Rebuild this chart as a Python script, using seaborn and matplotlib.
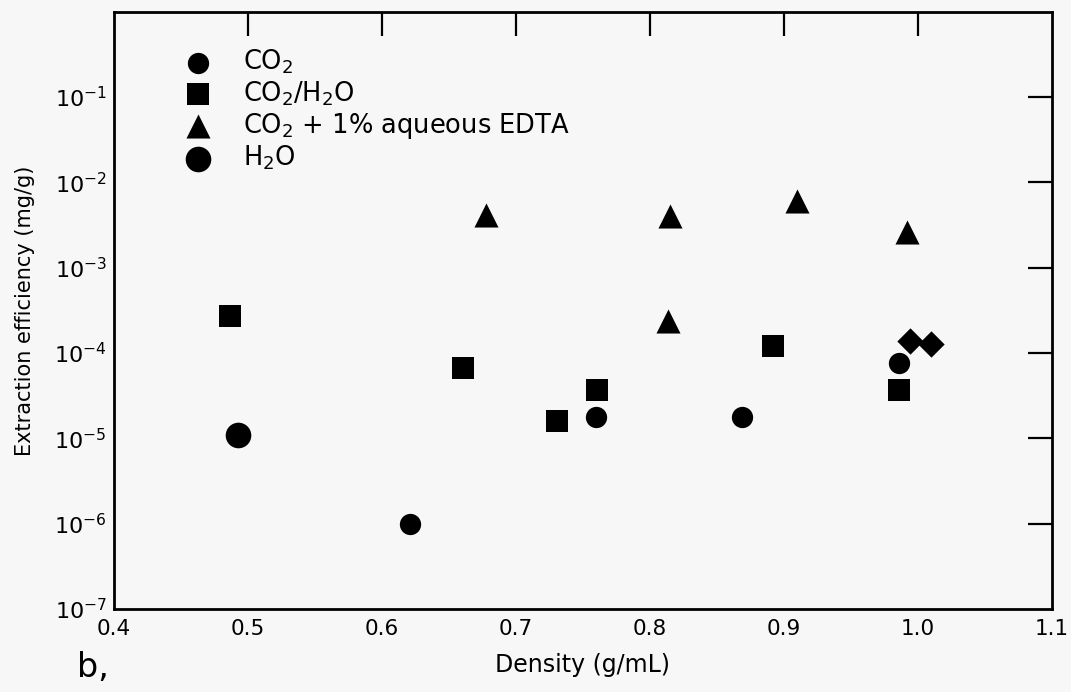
import matplotlib
matplotlib.use("Agg")
import matplotlib.pyplot as plt
from matplotlib.ticker import NullLocator
import pandas as pd
import seaborn as sns

# ── Data ──────────────────────────────────────────────────────────────────────
co2_density = [0.621, 0.760, 0.869, 0.986]
co2_eff     = [1.0e-6, 1.8e-5, 1.8e-5, 7.6e-5]

co2h2o_density = [0.487, 0.661, 0.731, 0.761, 0.892, 0.986]
co2h2o_eff     = [2.75e-4, 6.6e-5, 1.6e-5, 3.7e-5, 1.2e-4, 3.7e-5]

edta_density = [0.678, 0.815, 0.814, 0.910, 0.992]
edta_eff     = [4.1e-3, 4.0e-3, 2.4e-4, 6.05e-3, 2.65e-3]

h2o_density = [0.493]
h2o_eff     = [1.1e-5]

# unlabeled diamond points near 1.0 g/mL
extra_density = [0.994, 1.010]
extra_eff     = [1.4e-4, 1.28e-4]

X_TICKS = [0.4, 0.5, 0.6, 0.7, 0.8, 0.9, 1.0, 1.1]
X_TICKLABELS = ["0.4", "0.5", "0.6", "0.7", "0.8", "0.9", "1.0", "1.1"]
Y_TICKS = [1e-7, 1e-6, 1e-5, 1e-4, 1e-3, 1e-2, 1e-1]
Y_TICKLABELS = [r"$10^{-7}$", r"$10^{-6}$", r"$10^{-5}$", r"$10^{-4}$",
                r"$10^{-3}$", r"$10^{-2}$", r"$10^{-1}$"]

# (label, densities, efficiencies, marker, size)
SERIES = [
    (r"CO$_2$",                   co2_density,    co2_eff,    "o", 235),
    (r"CO$_2$/H$_2$O",            co2h2o_density, co2h2o_eff, "s", 250),
    (r"CO$_2$ + 1% aqueous EDTA", edta_density,   edta_eff,   "^", 300),
    (r"H$_2$O",                   h2o_density,    h2o_eff,    "o", 340),
    ("_nolegend_",                extra_density,  extra_eff,  "D", 180),
]

BG = "#f7f7f7"

# ── Plot ──────────────────────────────────────────────────────────────────────
sns.set_style("white")
plt.rcParams["font.family"] = ["DejaVu Sans"]
plt.rcParams["text.color"] = "black"
plt.rcParams["axes.labelcolor"] = "black"
plt.rcParams["xtick.color"] = "black"
plt.rcParams["ytick.color"] = "black"

fig = plt.figure(figsize=(10.71, 6.92), dpi=100, facecolor=BG)
ax = fig.add_axes([0.106, 0.120, 0.876, 0.863])
ax.set_facecolor(BG)

for label, xs, ys, marker, size in SERIES:
    df = pd.DataFrame({"density": xs, "eff": ys})
    sns.scatterplot(data=df, x="density", y="eff", ax=ax, marker=marker,
                    s=size, color="black", edgecolor="black", linewidth=0,
                    label=label, zorder=3)

ax.set_yscale("log")
ax.set_xlim(0.4, 1.1)
ax.set_ylim(1e-7, 1e0)
ax.set_xticks(X_TICKS)
ax.set_xticklabels(X_TICKLABELS)
ax.set_yticks(Y_TICKS)
ax.set_yticklabels(Y_TICKLABELS)
ax.yaxis.set_minor_locator(NullLocator())

ax.tick_params(direction="in", length=17, width=1.6, top=True, right=True,
               labelsize=16)
ax.tick_params(axis="x", pad=7, labelsize=15.5)
ax.tick_params(axis="y", pad=5)

# no tick marks where the ticks would sit on the frame itself
for t in (ax.xaxis.get_major_ticks()[0], ax.xaxis.get_major_ticks()[-1],
          ax.yaxis.get_major_ticks()[0]):
    t.tick1line.set_visible(False)
    t.tick2line.set_visible(False)

for sp in ax.spines.values():
    sp.set_visible(True)
    sp.set_color("black")
    sp.set_linewidth(2.0)

ax.set_xlabel("Density (g/mL)", fontsize=17, labelpad=10)
ax.set_ylabel("Extraction efficiency (mg/g)", fontsize=15, labelpad=14)

ax.legend(loc="upper left", bbox_to_anchor=(0.067, 0.94), frameon=False,
          fontsize=18.5, handlelength=1.7, handletextpad=0.9, labelspacing=0.12,
          borderpad=0, borderaxespad=0, scatterpoints=1)

fig.text(0.072, 0.012, "b,", fontsize=24, color="black", ha="left", va="bottom")

fig.savefig("out.png", dpi=100, facecolor=BG)
plt.close(fig)
